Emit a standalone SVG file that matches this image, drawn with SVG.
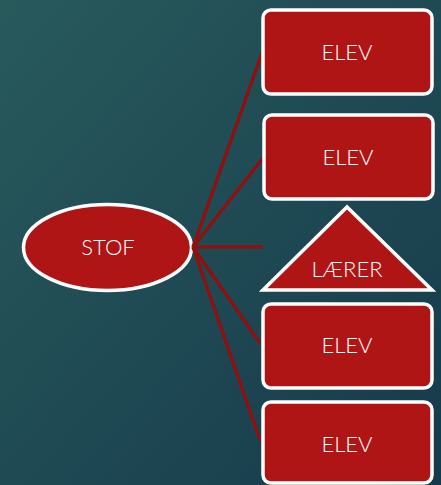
<svg xmlns="http://www.w3.org/2000/svg" width="441" height="485" viewBox="0 0 441 485">
  <defs>
    <linearGradient id="bg" x1="0" y1="0" x2="1" y2="1">
      <stop offset="0" stop-color="#285a5c"/>
      <stop offset="1" stop-color="#163a4b"/>
    </linearGradient>
  </defs>
  <style>
    .node { fill: #b01515; stroke: #ffffff; stroke-width: 3.5; }
    .lbl { fill: #ffffff; font-family: Lato, "DejaVu Sans", sans-serif; font-weight: 300; font-size: 22px; text-anchor: middle; }
    .conn { stroke: #8c1212; stroke-width: 3.5; fill: none; stroke-linecap: butt; }
  </style>
  <rect width="441" height="485" fill="url(#bg)"/>
  <g id="stof">
    <ellipse class="node" cx="107.5" cy="247.5" rx="84" ry="43"/>
    <text class="lbl" x="108" y="255">STOF</text>
  </g>
  <g id="connectors">
    <line class="conn" x1="193" y1="247" x2="262" y2="53"/>
    <line class="conn" x1="193" y1="247" x2="263" y2="158"/>
    <line class="conn" x1="193" y1="247" x2="263" y2="247"/>
    <line class="conn" x1="193" y1="247" x2="260" y2="343"/>
    <line class="conn" x1="193" y1="247" x2="260" y2="440"/>
  </g>
  <g id="elev1">
    <rect class="node" x="263" y="10" width="169" height="84" rx="8"/>
    <text class="lbl" x="347" y="60">ELEV</text>
  </g>
  <g id="elev2">
    <rect class="node" x="264" y="115" width="169" height="84" rx="8"/>
    <text class="lbl" x="348" y="165">ELEV</text>
  </g>
  <g id="laerer">
    <polygon class="node" points="347,207 263,290 432,290"/>
    <text class="lbl" x="347" y="277">LÆRER</text>
  </g>
  <g id="elev3">
    <rect class="node" x="263" y="304" width="169" height="84" rx="8"/>
    <text class="lbl" x="347" y="353">ELEV</text>
  </g>
  <g id="elev4">
    <rect class="node" x="263" y="402" width="169" height="81" rx="8"/>
    <text class="lbl" x="347" y="452">ELEV</text>
  </g>
</svg>
